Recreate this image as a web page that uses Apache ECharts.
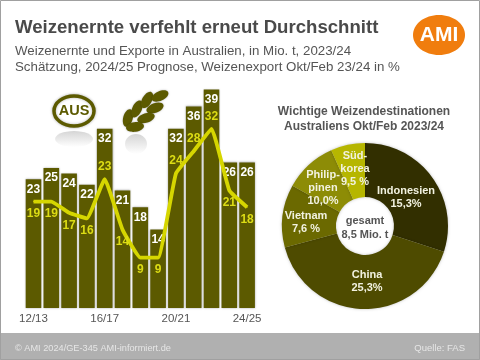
<!DOCTYPE html>
<html><head><meta charset="utf-8">
<style>html,body{margin:0;padding:0;background:#fff}#c{width:480px;height:360px}</style>
<script src="https://cdn.jsdelivr.net/npm/echarts@6/dist/echarts.min.js"></script>
</head><body><div id="c"></div>
<script>
const categories=['12/13','13/14','14/15','15/16','16/17','17/18','18/19','19/20','20/21','21/22','22/23','23/24','24/25'];
const harvest=[23,25,24,22,32,21,18,14,32,36,39,26,26];
const exportsData=[19,19,17,16,23,14,9,9,24,28,32,21,18];
const exportLabelsAbove=[4,8,9,10];
const destinations=['Indonesien','China','Vietnam','Philippinen','Südkorea'];
const destinationLabels=['Indonesien\n15,3%','China\n25,3%','Vietnam\n7,6 %','Philip-\npinen\n10,0%','Süd-\nkorea\n9,5 %'];
const drawnShares=[108,147,44,37,24];
const pieColors=['#322f00','#4e4b00','#6b6900','#8d8c06','#b6b600'];
const pieLabelAt=[[406,197],[367,281],[306,222],[323,188],[355,169]];
const F='"Liberation Sans",Arial,sans-serif';
const leaves=[[128,118,75],[137,109,65],[147,100,60],[160,96,25],[155,108,22],[146,118,18],[135,127,8]];
const chart=echarts.init(document.getElementById('c'),null,{renderer:'canvas'});
const txt=(x,y,t,o)=>({type:'text',x,y,z:o.z||20,style:Object.assign({text:t,fontFamily:F,verticalAlign:'middle'},o)});
const fade={type:'linear',x:0,y:0,x2:0,y2:1,colorStops:[{offset:0,color:'#d5d5d5'},{offset:1,color:'#ffffff'}]};
const graphic=[
 {type:'rect',z:0,shape:{x:0,y:333,width:480,height:27},style:{fill:'#b0b0b0'}},
 {type:'rect',z:30,shape:{x:0.5,y:0.5,width:479,height:359},style:{fill:'none',stroke:'#a0a0a0',lineWidth:1}},
 txt(15,27.5,'Weizenernte verfehlt erneut Durchschnitt',{fill:'#4a4a4a',fontSize:18.6,fontWeight:'bold'}),
 txt(15,51.5,'Weizenernte und Exporte in Australien, in Mio. t, 2023/24',{fill:'#555',fontSize:13.3}),
 txt(15,67.5,'Schätzung, 2024/25 Prognose, Weizenexport Okt/Feb 23/24 in %',{fill:'#555',fontSize:13.3}),
 txt(15,348,'© AMI 2024/GE-345 AMI-informiert.de',{fill:'#e6e6e6',fontSize:9.2}),
 txt(465,348,'Quelle: FAS',{fill:'#e6e6e6',fontSize:9.5,align:'right'}),
 {type:'ellipse',z:10,shape:{cx:439,cy:35,rx:26,ry:20},style:{fill:'#f07d0e'}},
 txt(439,35,'AMI',{fill:'#fff',fontSize:21,fontWeight:'bold',align:'center'}),
 {type:'ellipse',z:10,shape:{cx:74,cy:111,rx:20,ry:15},style:{fill:'#fff',stroke:'#5c5a00',lineWidth:3.5,shadowBlur:3,shadowColor:'rgba(0,0,0,.3)'}},
 txt(74,111,'AUS',{fill:'#5c5a00',fontSize:14.5,fontWeight:'bold',align:'center'}),
 {type:'ellipse',z:1,shape:{cx:74,cy:139,rx:19,ry:8},style:{fill:fade}},
 {type:'ellipse',z:1,shape:{cx:136,cy:144,rx:11,ry:10},style:{fill:fade}},
 txt(364,112,'Wichtige Weizendestinationen',{fill:'#555',fontSize:12,fontWeight:'bold',align:'center'}),
 txt(364,127,'Australiens Okt/Feb 2023/24',{fill:'#555',fontSize:12,fontWeight:'bold',align:'center'}),
 txt(365,221,'gesamt',{fill:'#555',fontSize:11,fontWeight:'bold',align:'center'}),
 txt(365,235,'8,5 Mio. t',{fill:'#555',fontSize:11,fontWeight:'bold',align:'center'})
];
leaves.forEach(l=>graphic.push({type:'ellipse',z:10,x:l[0],y:l[1],rotation:l[2]*Math.PI/180,
 shape:{cx:0,cy:0,rx:9,ry:4.8},style:{fill:'#5c5a00',shadowBlur:2,shadowColor:'rgba(0,0,0,.3)'}}));
chart.setOption({
 animation:false,backgroundColor:'#fff',
 grid:{left:24.6,width:231.4,top:84,height:224},
 xAxis:{type:'category',data:categories,axisLine:{show:false},axisTick:{show:false},
  axisLabel:{interval:3,margin:5,color:'#555',fontFamily:F,fontSize:11.5}},
 yAxis:{type:'value',min:0,max:40,show:false},
 series:[
  {type:'bar',data:harvest,barWidth:15.6,itemStyle:{color:'#5c5a00',shadowBlur:2,shadowColor:'rgba(0,0,0,.35)'},
   label:{show:true,position:'insideTop',distance:4,color:'#fff',fontFamily:F,fontSize:12,fontWeight:'bold'},z:2},
  {type:'line',data:exportsData.map((v,i)=>({value:v,label:{position:exportLabelsAbove.includes(i)?'top':'bottom'}})),
   smooth:0.1,symbol:'circle',symbolSize:1,showSymbol:true,showAllSymbol:true,itemStyle:{color:'#d6d600'},lineStyle:{color:'#d6d600',width:3.8},z:3,
   label:{show:true,distance:6,color:'#dcdc14',fontFamily:F,fontSize:12,fontWeight:'bold'}},
  {type:'pie',center:[365,226],radius:[29,83],startAngle:90,clockwise:true,silent:true,
   data:drawnShares.map((v,i)=>({name:destinations[i],value:v,itemStyle:{color:pieColors[i]},label:{formatter:destinationLabels[i]}})),
   itemStyle:{shadowBlur:3,shadowColor:'rgba(0,0,0,.25)'},
   label:{show:true,position:'inside',color:'#f2f2e0',fontFamily:F,fontSize:11,fontWeight:'bold',lineHeight:13,align:'center'},
   labelLine:{show:false},
   labelLayout:p=>({x:pieLabelAt[p.dataIndex][0],y:pieLabelAt[p.dataIndex][1],align:'center',verticalAlign:'middle'})}
 ],
 graphic:graphic
});
</script></body></html>
